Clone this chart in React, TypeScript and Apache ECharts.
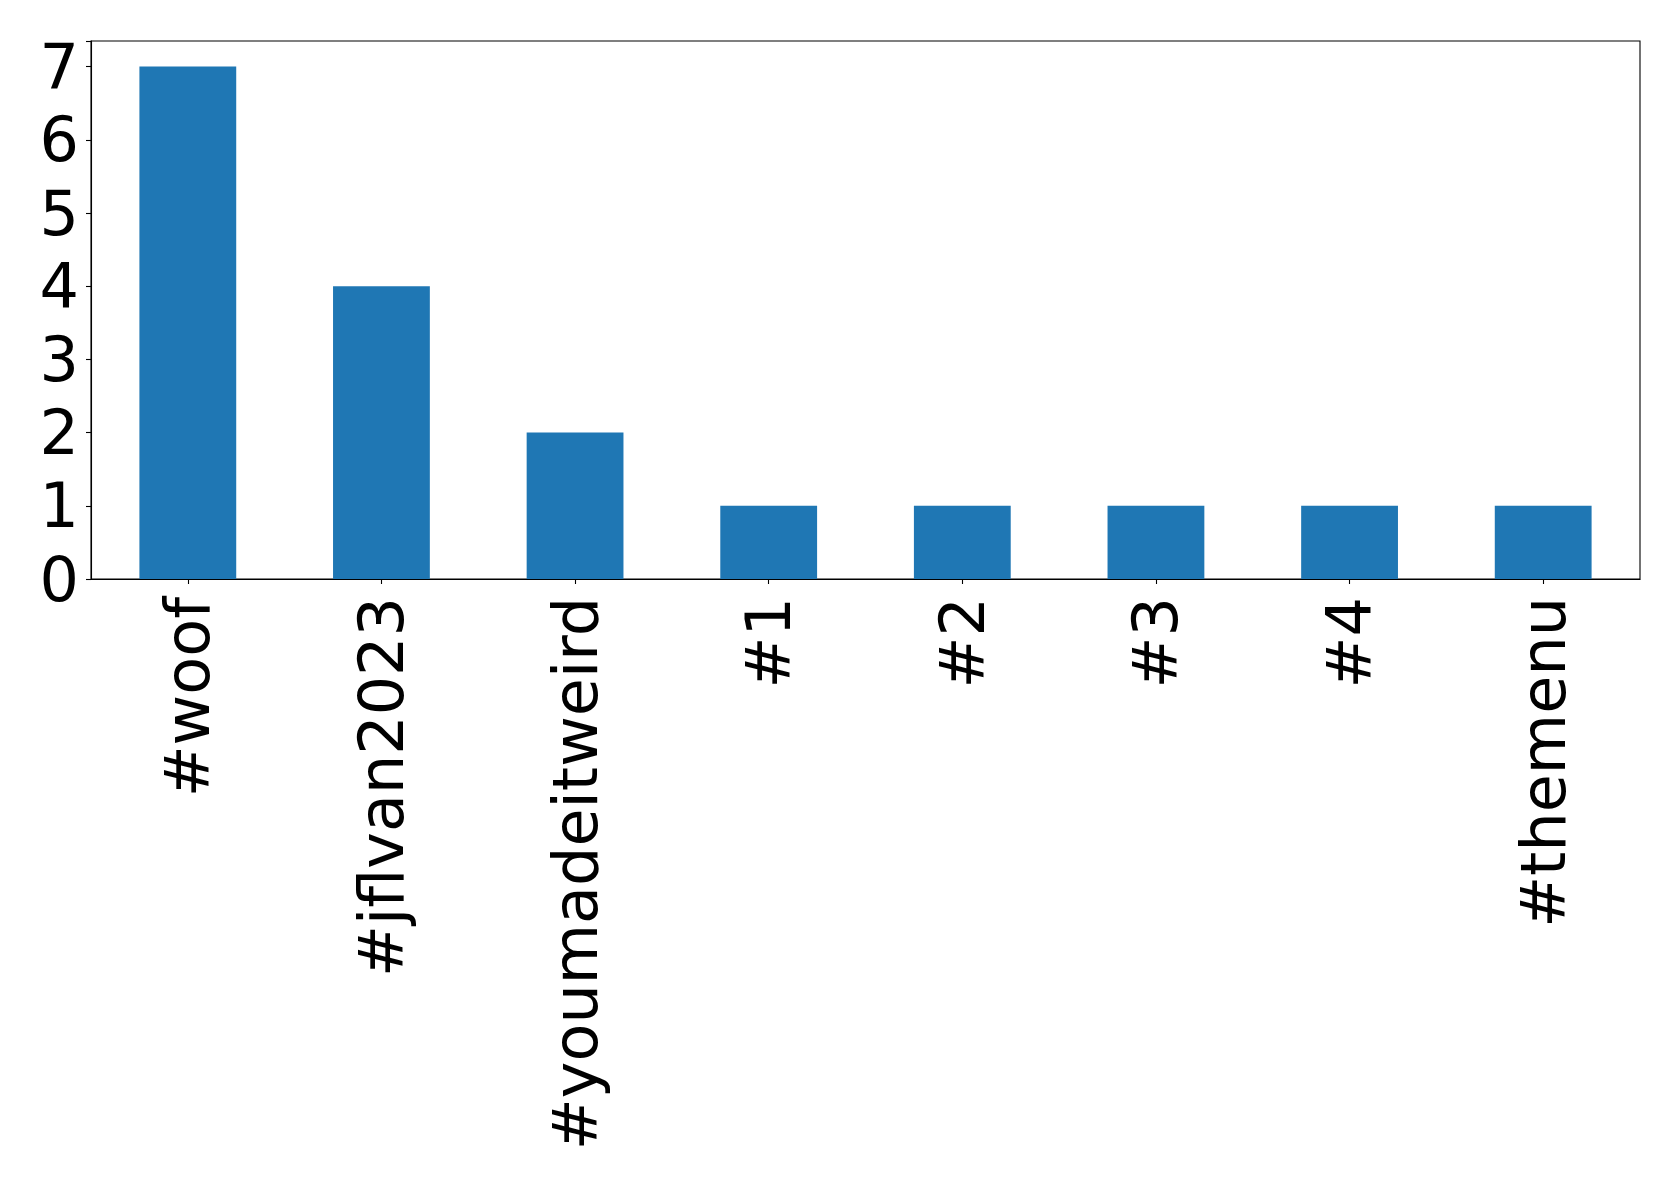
import React, { useEffect, useRef } from "react";
import * as echarts from "echarts";

const categories: string[] = ["#woof", "#jflvan2023", "#youmadeitweird", "#1", "#2", "#3", "#4", "#themenu"];
const counts: number[] = [7, 4, 2, 1, 1, 1, 1, 1];
const yTicks: number[] = [0, 1, 2, 3, 4, 5, 6, 7];

export default function App() {
  const ref = useRef<HTMLDivElement>(null);
  useEffect(() => {
    document.body.style.margin = "0";
    if (!ref.current) return;
    const chart = echarts.init(ref.current, null, { renderer: "svg" });
    const font = "DejaVu Sans";
    chart.setOption({
      animation: false,
      backgroundColor: "#ffffff",
      grid: {
        left: 91,
        top: 41,
        right: 39,
        bottom: 607,
        show: true,
        borderColor: "#000000",
        borderWidth: 1.1,
        containLabel: false,
      },
      xAxis: {
        type: "category",
        data: categories,
        boundaryGap: true,
        axisLine: { show: true, lineStyle: { color: "#000000", width: 1.1 } },
        axisTick: { show: true, alignWithLabel: true, length: 5, lineStyle: { color: "#000000", width: 1.1 } },
        axisLabel: {
          rotate: 90,
          interval: 0,
          margin: 18,
          fontSize: 62,
          fontFamily: font,
          color: "#000000",
        },
        splitLine: { show: false },
      },
      yAxis: {
        type: "value",
        min: 0,
        max: 7.35,
        interval: 1,
        axisLine: { show: true, lineStyle: { color: "#000000", width: 1.1 } },
        axisTick: { show: true, length: 5, lineStyle: { color: "#000000", width: 1.1 } },
        axisLabel: {
          margin: 12,
          fontSize: 62,
          fontFamily: font,
          color: "#000000",
          formatter: (v: number) => (yTicks.includes(v) ? String(v) : ""),
        },
        splitLine: { show: false },
      },
      series: [
        {
          type: "bar",
          data: counts,
          barWidth: "50%",
          itemStyle: { color: "#1f77b4" },
        },
      ],
    });
    return () => chart.dispose();
  }, []);
  return <div ref={ref} style={{ position: "absolute", left: 0, top: 0, width: 1679, height: 1186 }} />;
}
